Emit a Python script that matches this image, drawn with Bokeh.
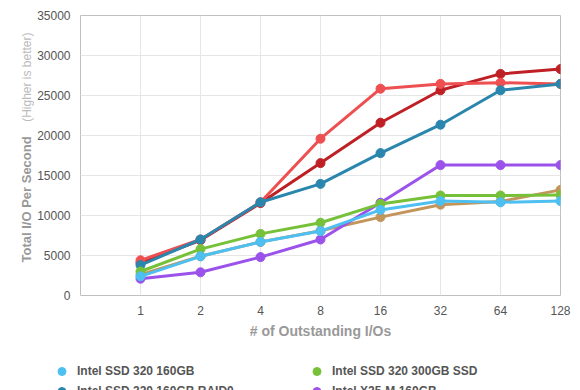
import math
from bokeh.plotting import figure
from bokeh.layouts import column, row
from bokeh.models import FixedTicker, Legend, LegendItem, Range1d
from bokeh.core.properties import value
from bokeh.embed import file_html
from bokeh.resources import INLINE

# ---- data ----
x_labels = ["1", "2", "4", "8", "16", "32", "64", "128"]
x_pos = [0, 1, 2, 3, 4, 5, 6, 7]
y_ticks = [0, 5000, 10000, 15000, 20000, 25000, 30000, 35000]

ssd320_160 = [2400, 4900, 6700, 8050, 10700, 11800, 11650, 11800]
ssd320_300 = [3000, 5800, 7700, 9100, 11450, 12500, 12500, 12550]
ssd320_160_raid0 = [3800, 7000, 11650, 13950, 17800, 21350, 25650, 26450]
x25m_160 = [2100, 2900, 4800, 7000, 11600, 16300, 16300, 16300]
ssd510_250 = [2600, 4900, 6700, 8100, 9800, 11350, 11750, 13200]
vertex3_240 = [4400, 7000, 11650, 19600, 25850, 26450, 26600, 26450]
vertex3_240_raid0 = [4100, 6900, 11550, 16550, 21600, 25650, 27700, 28300]

series = [
    ("Intel SSD 320 160GB", ssd320_160, "#4dbff0"),
    ("Intel SSD 320 300GB SSD", ssd320_300, "#77c13a"),
    ("Intel SSD 320 160GB RAID0", ssd320_160_raid0, "#2a86ad"),
    ("Intel X25-M 160GB", x25m_160, "#9b52ea"),
    ("Intel SSD 510 250GB", ssd510_250, "#c4955a"),
    ("OCZ Vertex 3 240GB", vertex3_240, "#ee4f50"),
    ("OCZ Vertex 3 240GB RAID0", vertex3_240_raid0, "#bf2026"),
]

y_title = "Total I/O Per Second"
y_subtitle = "(Higher is better)"
x_title = "# of Outstanding I/Os"

FONT = "Liberation Sans"
TOP_H = 350
TITLE_W = 34
B_TOP, B_BOTTOM = 15, 55
FRAME_H = TOP_H - B_TOP - B_BOTTOM  # 280


def bare(fig):
    fig.xaxis.visible = False
    fig.yaxis.visible = False
    fig.xgrid.visible = False
    fig.ygrid.visible = False
    fig.outline_line_color = None
    fig.background_fill_color = "white"
    fig.border_fill_color = "white"


# ---- y title panel: frame aligned with the chart frame (pixel coords, y up from frame bottom) ----
t = figure(width=TITLE_W, height=TOP_H, output_backend="svg", toolbar_location=None,
           x_range=Range1d(0, TITLE_W), y_range=Range1d(0, FRAME_H),
           min_border_left=0, min_border_right=0, min_border_top=B_TOP,
           min_border_bottom=B_BOTTOM)
bare(t)
t.text(x=[26], y=[33], text=[y_title], angle=math.pi / 2, text_align="left",
       text_baseline="middle", text_font=value(FONT), text_font_size="13px",
       text_font_style="bold", text_color="#999999")
t.text(x=[26], y=[263], text=[y_subtitle], angle=math.pi / 2, text_align="right",
       text_baseline="middle", text_font=value(FONT), text_font_size="12px",
       text_color="#bbbbbb")

# ---- main chart ----
p = figure(width=580 - TITLE_W, height=TOP_H, output_backend="svg", toolbar_location=None,
           x_range=Range1d(-1, 7), y_range=Range1d(0, 35000),
           min_border_left=80 - TITLE_W, min_border_right=20, min_border_top=B_TOP,
           min_border_bottom=B_BOTTOM)
p.background_fill_color = "white"
p.border_fill_color = "white"
p.outline_line_color = "#c0c0c0"
p.outline_line_width = 1

p.xgrid.grid_line_color = "#e6e6e6"
p.ygrid.grid_line_color = "#e6e6e6"
p.xaxis.ticker = FixedTicker(ticks=x_pos)
p.xaxis.major_label_overrides = {i: l for i, l in zip(x_pos, x_labels)}
p.yaxis.ticker = FixedTicker(ticks=y_ticks)

for ax in (p.xaxis[0], p.yaxis[0]):
    ax.axis_line_color = None
    ax.major_tick_line_color = None
    ax.minor_tick_line_color = None
    ax.major_tick_out = 0
    ax.major_tick_in = 0
    ax.major_label_text_font = FONT
    ax.major_label_text_font_size = "12px"
    ax.major_label_text_color = "#555555"
p.yaxis.major_label_standoff = 10
p.xaxis.major_label_standoff = 10
p.yaxis.formatter.use_scientific = False

p.xaxis.axis_label = x_title
p.xaxis.axis_label_text_font = FONT
p.xaxis.axis_label_text_font_size = "14px"
p.xaxis.axis_label_text_font_style = "bold"
p.xaxis.axis_label_text_color = "#999999"
p.xaxis.axis_label_standoff = 5

for name, vals, color in reversed(series):
    p.line(x_pos, vals, line_color=color, line_width=3)
    p.scatter(x_pos, vals, size=9, fill_color=color, line_color=color)

# ---- legend panel (series drawn out of view; only the legend shows) ----
lg = figure(width=580, height=390 - TOP_H, output_backend="svg", toolbar_location=None,
            x_range=Range1d(-20, -19), y_range=Range1d(-20, -19), min_border=0)
bare(lg)
items = []
for name, vals, color in series:
    r = lg.scatter(x_pos, vals, size=9, fill_color=color, line_color=color)
    items.append(LegendItem(label=name, renderers=[r]))
legend = Legend(items=items, location=(49, -51), orientation="horizontal", ncols=2,
                glyph_width=25, glyph_height=20, label_height=20, label_standoff=3,
                label_width=227, spacing=0, padding=0, margin=0,
                border_line_alpha=0, background_fill_alpha=0,
                label_text_font=FONT, label_text_font_size="12px",
                label_text_font_style="bold", label_text_color="#555555")
lg.add_layout(legend, "center")

layout = column(row(t, p), lg)
open("out.html", "w").write(file_html(layout, INLINE))
